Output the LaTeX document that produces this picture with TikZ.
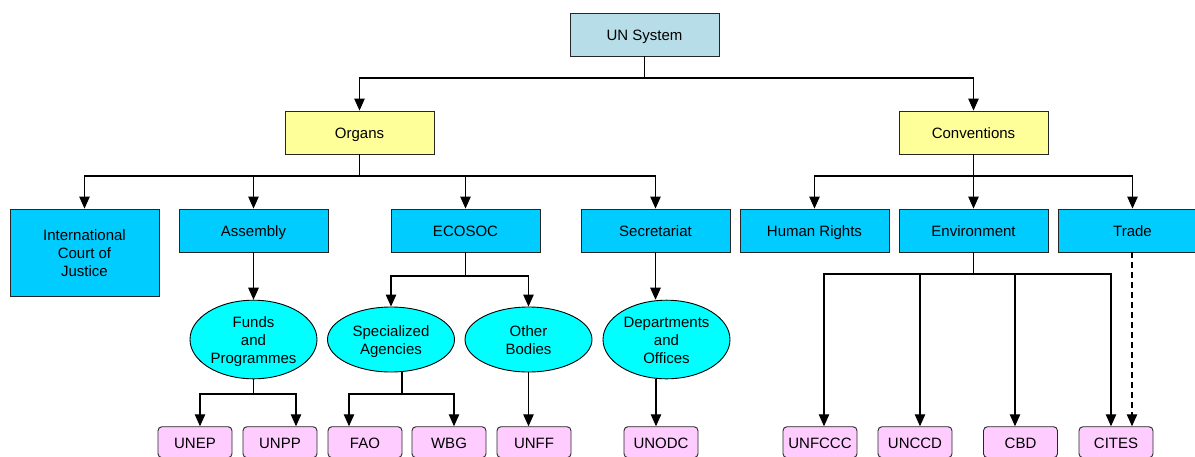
\documentclass[tikz,border=0pt]{standalone}
\usepackage{fontspec}
\setmainfont{Liberation Sans}
\usetikzlibrary{shapes.geometric,arrows.meta}
\definecolor{unblue}{HTML}{B7DEE8}
\definecolor{orgyellow}{HTML}{FFFF99}
\definecolor{boxcyan}{HTML}{00CCFF}
\definecolor{ellcyan}{HTML}{00FFFF}
\definecolor{leafpink}{HTML}{FFCCFF}
\newcommand\fs{\rule{0pt}{15.5pt}}
\newcommand\fd{\rule[-3.5pt]{0pt}{3.5pt}}
\begin{document}
\begin{tikzpicture}[x=1pt,y=-1pt,
  every node/.style={font=\fontsize{15}{18.3}\selectfont, align=center, inner sep=0pt},
  topbox/.style={draw=black!85, line width=0.9pt, minimum width=149pt, minimum height=43pt},
  ubox/.style={topbox, fill=unblue},
  ybox/.style={topbox, fill=orgyellow},
  cbox/.style={topbox, fill=boxcyan},
  ell/.style={ellipse, draw=black, line width=0.9pt, fill=ellcyan, minimum width=127pt, minimum height=65pt},
  leaf/.style={draw=black!85, line width=0.9pt, fill=leafpink, rounded corners=4pt, minimum width=74pt, minimum height=31pt},
  conn/.style={draw=black, line width=1.1pt},
  arr/.style={conn, -{Triangle[length=12pt,width=10.5pt]}},
  darr/.style={arr, dash pattern=on 6pt off 4pt}
]
\useasboundingbox (0,0) rectangle (1195,456);
\begin{scope}
\clip (0,0) rectangle (1195,456);
% level 0
\node[ubox] (un) at (644.5,34.5) {\fs UN System\fd};
% level 1
\node[ybox] (organs) at (359.5,132.5) {\fs Organs\fd};
\node[ybox] (conv) at (973.5,132.5) {\fs Conventions\fd};
% level 2
\node[cbox, minimum height=87pt] (icj) at (84.5,252.5) {\fs International\\Court of\\Justice\fd};
\node[cbox] (assembly) at (253.5,230.5) {\fs Assembly\fd};
\node[cbox] (ecosoc) at (465.5,230.5) {\fs ECOSOC\fd};
\node[cbox] (secr) at (655.5,230.5) {\fs Secretariat\fd};
\node[cbox] (hr) at (814.5,230.5) {\fs Human Rights\fd};
\node[cbox] (env) at (973.5,230.5) {\fs Environment\fd};
\node[cbox] (trade) at (1132.5,230.5) {\fs Trade\fd};
% level 3
\node[ell] (funds) at (253.5,339.5) {\fs Funds\\and\\Programmes\fd};
\node[ell] (spec) at (391,339.5) {\fs Specialized\\Agencies\fd};
\node[ell] (other) at (528.5,339.5) {\fs Other\\Bodies\fd};
\node[ell] (dept) at (666.5,339.5) {\fs Departments\\and\\Offices\fd};
% level 4
\node[leaf] (unep) at (195,442.2) {\fs UNEP\fd};
\node[leaf] (unpp) at (280,442.2) {\fs UNPP\fd};
\node[leaf] (fao) at (365,442.2) {\fs FAO\fd};
\node[leaf] (wbg) at (449,442.2) {\fs WBG\fd};
\node[leaf] (unff) at (534,442.2) {\fs UNFF\fd};
\node[leaf] (unodc) at (661,442.2) {\fs UNODC\fd};
\node[leaf] (unfccc) at (820,442.2) {\fs UNFCCC\fd};
\node[leaf] (unccd) at (915,442.2) {\fs UNCCD\fd};
\node[leaf] (cbd) at (1020.5,442.2) {\fs CBD\fd};
\node[leaf] (cites) at (1116,442.2) {\fs CITES\fd};
% junction coordinates
\coordinate (j0) at (644.5,78);
\coordinate (j1) at (359.5,176);
\coordinate (j2) at (973.5,176);
\coordinate (j3) at (465.5,276);
\coordinate (j4) at (253.5,394);
\coordinate (j5) at (402,394);
\coordinate (j6) at (973.5,274);
\coordinate (a1) at (200,0);
\coordinate (a2) at (296,0);
\coordinate (a3) at (349,0);
\coordinate (a4) at (454,0);
\coordinate (a5) at (656,0);
\coordinate (a6) at (824,0);
\coordinate (a7) at (920,0);
\coordinate (a8) at (1015,0);
\coordinate (a9) at (1111,0);
\coordinate (a10) at (1132,0);
% connectors
\draw[conn] (un.south) -- (j0);
\draw[arr] (j0) -| (organs.north);
\draw[arr] (j0) -| (conv.north);
\draw[conn] (organs.south) -- (j1);
\draw[arr] (j1) -| (icj.north);
\draw[arr] (j1) -| (assembly.north);
\draw[arr] (j1) -| (ecosoc.north);
\draw[arr] (j1) -| (secr.north);
\draw[conn] (conv.south) -- (j2);
\draw[arr] (j2) -| (hr.north);
\draw[arr] (j2) -| (env.north);
\draw[arr] (j2) -| (trade.north);
\draw[arr] (assembly.south) -- (funds.north);
\draw[conn] (ecosoc.south) -- (j3);
\draw[arr] (j3) -| (spec.north);
\draw[arr] (j3) -| (other.north);
\draw[arr] (secr.south) -- (secr.south |- dept.north);
\draw[conn] (funds.south) -- (j4);
\draw[arr] (j4) -| (a1 |- unep.north);
\draw[arr] (j4) -| (a2 |- unpp.north);
\draw[conn] (spec.south -| j5) -- (j5);
\draw[arr] (j5) -| (a3 |- fao.north);
\draw[arr] (j5) -| (a4 |- wbg.north);
\draw[arr] (other.south) -- (other.south |- unff.north);
\draw[arr] (a5 |- dept.south) -- (a5 |- unodc.north);
\draw[conn] (env.south) -- (j6);
\draw[arr] (j6) -| (a6 |- unfccc.north);
\draw[arr] (j6) -| (a7 |- unccd.north);
\draw[arr] (j6) -| (a8 |- cbd.north);
\draw[arr] (j6) -| (a9 |- cites.north);
\draw[darr] (a10 |- trade.south) -- (a10 |- cites.north);
\end{scope}
\end{tikzpicture}
\end{document}
